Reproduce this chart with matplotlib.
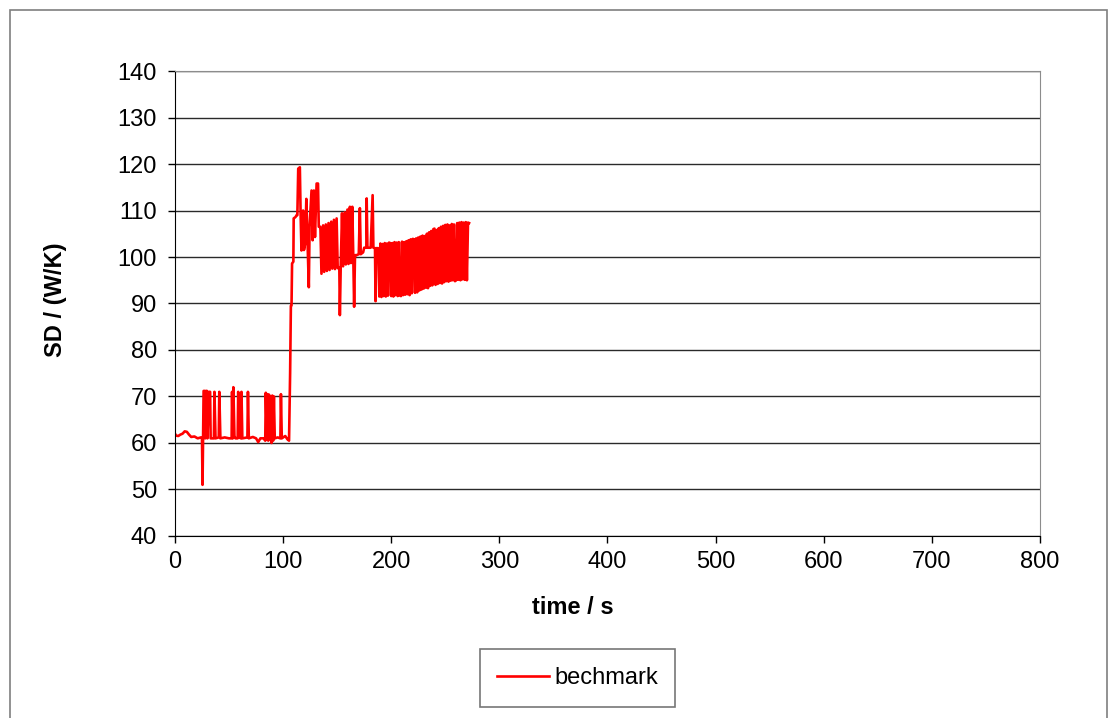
import matplotlib
matplotlib.use("Agg")
import matplotlib.pyplot as plt
from matplotlib.patches import Rectangle

# Messwerte, abgelesen aus dem Originaldiagramm
# Abschnitt 1: Grundniveau um 61 W/K mit Spitzen auf ~71
t_start = [0, 1, 3, 5, 7, 9, 11, 13, 15, 18, 21, 24, 25, 25.5, 26, 26.5, 27.5, 28,
           28.7, 29.6, 30, 31.4, 32.5, 33, 36, 36.5, 37.5, 40.5, 41, 42, 46, 50,
           52.4, 52.8, 53.5, 54, 55, 56, 58, 58.5, 59.3, 61, 61.5, 62.3, 67, 67.5,
           68.3, 72, 75, 77, 79, 82, 83.5, 84, 85, 85.5, 86.3, 87, 87.8, 88.5,
           89.3, 90, 90.8, 91.5, 92.3, 95, 97.5, 98, 98.8, 102, 104, 105.5]
sd_start = [62.0, 61.6, 61.5, 61.8, 62.0, 62.5, 62.4, 61.8, 61.3, 61.4, 61.0, 61.2,
            61.0, 51.0, 61.0, 71.2, 71.2, 61.0, 71.2, 71.2, 61.0, 71.0, 71.0, 61.0,
            61.0, 71.0, 61.0, 61.2, 71.0, 61.0, 61.2, 61.0, 61.0, 71.0, 61.0, 72.0,
            61.5, 61.0, 61.0, 71.0, 61.2, 61.0, 71.0, 61.0, 61.2, 71.0, 61.0, 61.3,
            61.0, 60.2, 61.0, 61.0, 60.5, 70.8, 60.8, 70.5, 60.5, 70.4, 61.0, 70.0,
            60.0, 70.2, 60.5, 70.0, 61.0, 61.2, 61.0, 70.5, 61.0, 61.5, 60.8, 60.5]

# Abschnitt 2: Sprung auf ~100-119 W/K
t_jump = [106.5, 107.2, 107.8, 108.3, 109.5, 109.8, 111.5, 112.5, 113.2, 114, 115.5,
          116.2, 117, 118.5, 119.3, 120.5, 121.5, 122.5, 123.8, 124.5, 126.3, 127.3,
          128.5, 129.5, 131, 132.3, 133, 134.5, 135.5, 137, 138, 139.5, 140.5, 142,
          143, 144.5, 145.5, 147, 148, 149.5, 150.5, 152, 152.5, 153.3, 154.5, 155.5,
          157, 158, 159.5, 160.5, 161.8, 162.8, 164, 165, 165.7, 166.5, 168, 170,
          171, 171.8, 174, 175, 177, 177.3, 178, 181, 182.8, 183.5, 185]
sd_jump = [75.0, 89.5, 89.6, 98.6, 99.0, 108.3, 108.6, 109.0, 109.0, 119.0, 119.3,
           109.3, 101.4, 110.0, 101.5, 103.0, 112.5, 104.0, 93.5, 106.5, 114.3, 103.6,
           114.3, 104.3, 115.8, 115.8, 106.5, 106.5, 96.4, 106.8, 96.8, 107.0, 97.0,
           107.3, 97.2, 107.6, 97.5, 108.0, 97.4, 108.3, 97.6, 97.8, 87.5, 98.0,
           109.4, 98.0, 109.6, 98.4, 110.2, 98.5, 110.8, 98.7, 110.8, 99.0, 89.3,
           100.4, 100.4, 100.6, 110.5, 100.6, 101.0, 102.0, 102.0, 112.6, 102.0,
           102.0, 113.3, 102.0, 101.9]

# Abschnitt 3: dichte Schwingung zwischen ~91 und ~107.5 W/K
t_osc = [185.5, 186, 188] + list(range(189, 273))
sd_osc = [90.5, 101.9, 101.9,
          91.5, 102.9, 91.4, 102.8, 91.6, 103.0, 91.5, 102.9, 91.7, 103.1,
          103.0, 91.6, 103.0, 91.5, 103.2, 91.8, 103.1, 91.6, 103.2, 91.7,
          91.6, 103.3, 91.8, 103.2, 91.9, 103.4, 92.0, 103.6, 91.8, 103.8,
          92.2, 103.9, 103.8, 92.3, 104.0, 92.4, 104.2, 92.8, 104.4, 93.0,
          104.6, 93.2, 104.5, 93.4, 105.0, 93.3, 105.3, 93.8, 105.6, 93.9,
          106.0, 106.1, 94.0, 105.8, 94.2, 106.2, 94.4, 106.5, 94.3, 106.7,
          94.6, 106.9, 94.8, 107.0, 94.7, 106.8, 94.9, 107.1, 95.0, 107.0,
          94.8, 95.0, 107.3, 95.1, 107.4, 95.0, 107.5, 95.2, 107.4, 95.1,
          107.5, 95.0, 107.4, 107.3]

time = t_start + t_jump + t_osc
sd = sd_start + sd_jump + sd_osc

x_ticks = [0, 100, 200, 300, 400, 500, 600, 700, 800]
y_ticks = [40, 50, 60, 70, 80, 90, 100, 110, 120, 130, 140]

plt.rcParams['font.family'] = ['Liberation Sans', 'DejaVu Sans']

fig = plt.figure(figsize=(11.13, 7.18), dpi=100)
ax = fig.add_axes([0.1572, 0.2535, 0.7772, 0.6476])

# Rahmen um das ganze Diagramm
fig.patches.append(Rectangle((10 / 1113, -0.02), 1097 / 1113, 1 - 10 / 718 + 0.02,
                             transform=fig.transFigure, fill=False,
                             edgecolor='#7f7f7f', linewidth=1.2))

ax.plot(time, sd, color='#ff0000', linewidth=1.9, label='bechmark')

ax.set_xlim(0, 800)
ax.set_ylim(40, 140)
ax.set_xticks(x_ticks)
ax.set_yticks(y_ticks)
ax.tick_params(axis='both', labelsize=17, direction='out', length=5, width=1)
ax.tick_params(axis='y', pad=8)
ax.tick_params(axis='x', pad=6)

# Gitterlinien
ax.grid(axis='y', color='#2a2a2a', linewidth=1.0)
ax.set_axisbelow(True)

for side in ['top', 'right']:
    ax.spines[side].set_color('#8c8c8c')
for side in ['left', 'bottom']:
    ax.spines[side].set_color('black')

ax.set_xlabel('time / s', fontsize=17, fontweight='bold')
ax.set_ylabel('SD / (W/K)', fontsize=17, fontweight='bold')
ax.xaxis.set_label_coords(0.46, -0.129)
ax.yaxis.set_label_coords(-0.125, 0.507)

leg = fig.legend(loc='center', bbox_to_anchor=(577.5 / 1113, 1 - 678 / 718),
                 fontsize=17, frameon=True, fancybox=False, borderpad=0.75,
                 handlelength=2.2, handletextpad=0.2)
leg.get_frame().set_edgecolor('#555555')
leg.get_frame().set_linewidth(1.2)

plt.savefig('out.png', dpi=100)
